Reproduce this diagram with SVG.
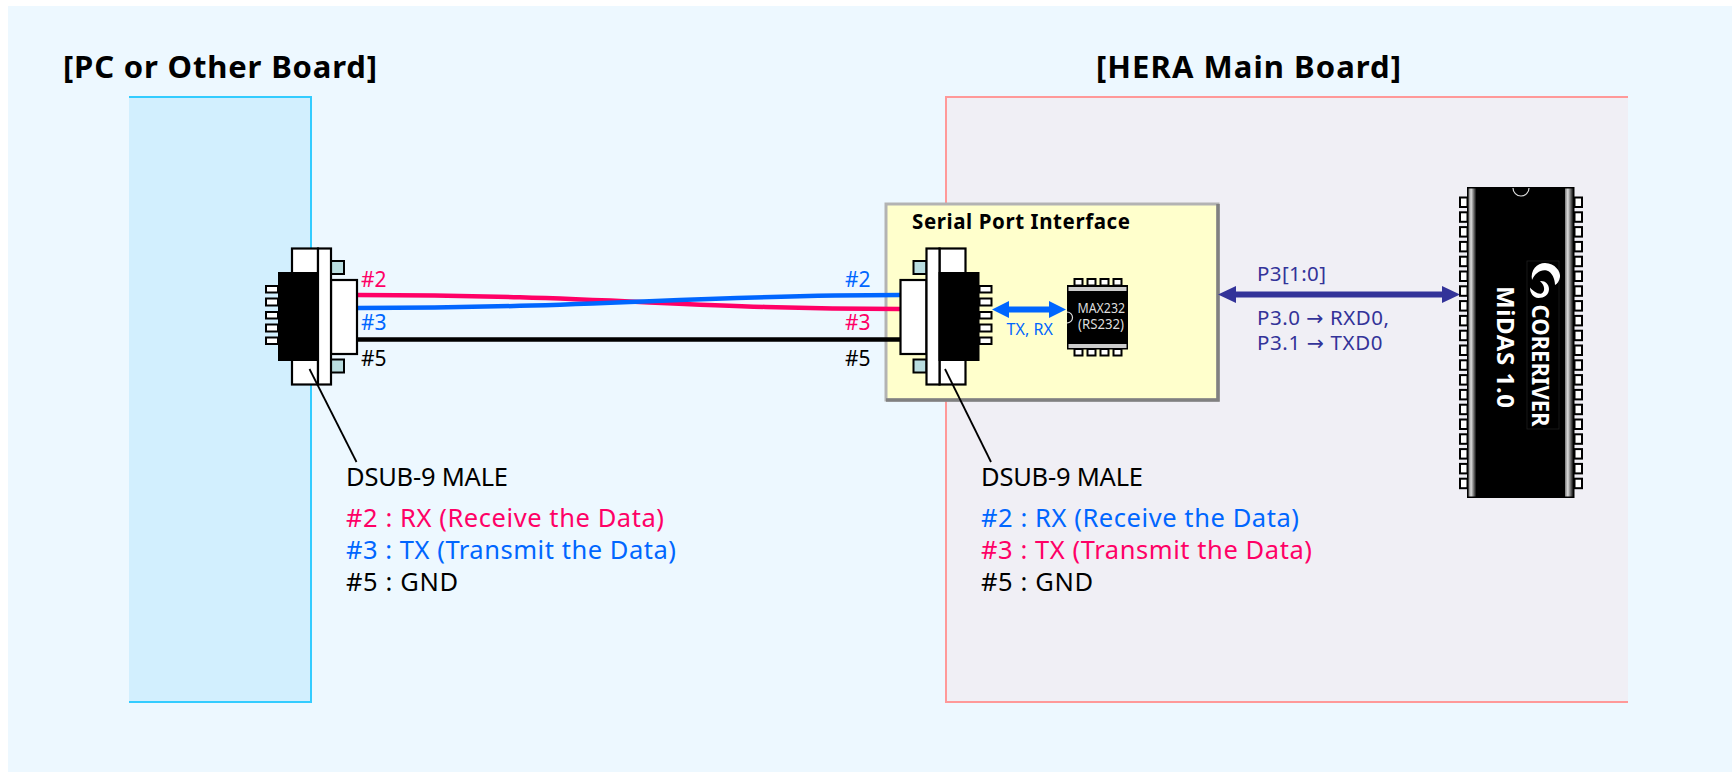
<svg xmlns="http://www.w3.org/2000/svg" width="1736" height="772" viewBox="0 0 1736 772">
<style>
text{font-family:"Noto Sans","Open Sans","DejaVu Sans",sans-serif}
.t{font-size:25.5px}
.b{font-weight:700}
.title{font-size:31px;font-weight:700}
.red{fill:#ff0066}.blu{fill:#0066ff}.blk{fill:#000}.nav{fill:#333399}
.lab{font-size:21px}
.sm{font-size:20.5px}
.w{fill:#fff;stroke:#000;stroke-width:2.2}
.pin{fill:#fff;stroke:#000;stroke-width:2}
.teal{fill:#b9dde0;stroke:#000;stroke-width:2}
.wire{fill:none;stroke-width:4.5}
.lead{stroke:#000;stroke-width:1.8;fill:none}
</style>
<defs>
<linearGradient id="band" x1="0" x2="1" y1="0" y2="0"><stop offset="0" stop-color="#777"/><stop offset=".35" stop-color="#ddd"/><stop offset="1" stop-color="#111"/></linearGradient>
<g id="dsub">
<rect class="w" x="292" y="248.5" width="26" height="136"/>
<rect class="teal" x="331" y="261" width="13" height="13"/>
<rect class="teal" x="331" y="359.5" width="13" height="13"/>
<rect class="w" x="331" y="280" width="26" height="74"/>
<rect class="w" x="318" y="248.5" width="13" height="136"/>
<rect x="278" y="272" width="41" height="89" fill="#000"/>
<rect class="pin" x="266" y="286" width="12" height="6.5"/>
<rect class="pin" x="266" y="298.5" width="12" height="7"/>
<rect class="pin" x="266" y="312" width="12" height="6.5"/>
<rect class="pin" x="266" y="324.5" width="12" height="7"/>
<rect class="pin" x="266" y="337.5" width="12" height="6.5"/>
</g>
<rect id="p8" class="pin" width="8" height="6.5"/>
<rect id="p40" class="pin" width="7.5" height="9.5"/>
</defs>

<rect x="8" y="6" width="1724" height="766" fill="#edf8ff"/>

<g id="pc-board">
<rect x="129" y="97" width="182" height="605" fill="#d2effe"/>
<path d="M129 97H311V702H129" fill="none" stroke="#33ccff" stroke-width="2"/>
<text class="title" x="63" y="78" textLength="314">[PC or Other Board]</text>
</g>

<g id="hera-board">
<rect x="946" y="97" width="682" height="605" fill="#f0eff5"/>
<path d="M1628 97H946V702H1628" fill="none" stroke="#ff9999" stroke-width="2"/>
<text class="title" x="1096" y="78" textLength="305">[HERA Main Board]</text>
</g>

<g id="serial-port-interface">
<rect x="886" y="204" width="332" height="196" fill="#ffffcc" stroke="#b3b3b3" stroke-width="3"/>
<path d="M1218 204V400H886" fill="none" stroke="#808080" stroke-width="3.5"/>
<text class="b" font-size="20.5" x="912" y="229" textLength="218">Serial Port Interface</text>
</g>

<g id="connectors">
<path class="wire" stroke="#ff0066" d="M357 295C600 295 690 309 900 309"/>
<path class="wire" stroke="#0066ff" d="M357 308C600 308 690 295 900 295"/>
<path class="wire" stroke="#000" d="M357 339.5H900"/>
<path d="M999 309.5H1059" stroke="#0066ff" stroke-width="6" fill="none"/>
<path d="M992 309.5L1009 301V318zM1066 309.5L1049 301V318z" fill="#0066ff"/>
<path d="M1228 294.5H1450" stroke="#333399" stroke-width="6" fill="none"/>
<path d="M1218 294.5L1236 286V303zM1460 294.5L1442 286V303z" fill="#333399"/>
</g>

<g id="dsub-left">
<use href="#dsub"/>
<text class="lab red" x="361" y="287">#2</text>
<text class="lab blu" x="361" y="330">#3</text>
<text class="lab blk" x="361" y="366">#5</text>
<text class="t" x="346" y="486" textLength="162">DSUB-9 MALE</text>
<text class="t red" x="346" y="527" textLength="318">#2 : RX (Receive the Data)</text>
<text class="t blu" x="346" y="559" textLength="330">#3 : TX (Transmit the Data)</text>
<text class="t blk" x="346" y="590.5" textLength="112">#5 : GND</text>
</g>

<g id="dsub-right">
<use href="#dsub" transform="translate(1257.5 0) scale(-1 1)"/>
<text class="lab blu" x="845" y="287">#2</text>
<text class="lab red" x="845" y="330">#3</text>
<text class="lab blk" x="845" y="366">#5</text>
<text class="t" x="981" y="486" textLength="162">DSUB-9 MALE</text>
<text class="t blu" x="981" y="527" textLength="318">#2 : RX (Receive the Data)</text>
<text class="t red" x="981" y="559" textLength="331">#3 : TX (Transmit the Data)</text>
<text class="t blk" x="981" y="590.5" textLength="112">#5 : GND</text>
</g>

<g id="leaders">
<path class="lead" d="M309.5 369L356.5 462"/>
<path class="lead" d="M945 369L991 462"/>
</g>

<g id="max232">
<use href="#p8" x="1074.5" y="279"/><use href="#p8" x="1087.5" y="279"/><use href="#p8" x="1100.5" y="279"/><use href="#p8" x="1113.5" y="279"/>
<use href="#p8" x="1074.5" y="349"/><use href="#p8" x="1087.5" y="349"/><use href="#p8" x="1100.5" y="349"/><use href="#p8" x="1113.5" y="349"/>
<rect x="1067" y="285" width="61" height="64.5" fill="#000"/>
<rect x="1068.5" y="287" width="58" height="4" fill="#ccc"/>
<rect x="1068.5" y="344" width="58" height="4" fill="#ccc"/>
<path d="M1067 312A5.5 5.5 0 0 1 1067 323" fill="none" stroke="#ddd" stroke-width="1.2"/>
<text x="1077.5" y="313" font-size="13.5" fill="#ddd" textLength="47.5" lengthAdjust="spacingAndGlyphs">MAX232</text>
<text x="1078" y="329" font-size="13.5" fill="#ddd" textLength="46" lengthAdjust="spacingAndGlyphs">(RS232)</text>
<text class="blu" x="1006.5" y="335" font-size="16" textLength="46.5">TX, RX</text>
</g>

<g id="midas">
<use href="#p40" x="1460" y="197.5"/><use href="#p40" x="1460" y="212.3"/><use href="#p40" x="1460" y="227.1"/><use href="#p40" x="1460" y="241.9"/><use href="#p40" x="1460" y="256.7"/><use href="#p40" x="1460" y="271.5"/><use href="#p40" x="1460" y="286.3"/><use href="#p40" x="1460" y="301.1"/><use href="#p40" x="1460" y="315.9"/><use href="#p40" x="1460" y="330.7"/><use href="#p40" x="1460" y="345.5"/><use href="#p40" x="1460" y="360.3"/><use href="#p40" x="1460" y="375.1"/><use href="#p40" x="1460" y="389.9"/><use href="#p40" x="1460" y="404.7"/><use href="#p40" x="1460" y="419.5"/><use href="#p40" x="1460" y="434.3"/><use href="#p40" x="1460" y="449.1"/><use href="#p40" x="1460" y="463.9"/><use href="#p40" x="1460" y="478.7"/>
<use href="#p40" x="1574.5" y="197.5"/><use href="#p40" x="1574.5" y="212.3"/><use href="#p40" x="1574.5" y="227.1"/><use href="#p40" x="1574.5" y="241.9"/><use href="#p40" x="1574.5" y="256.7"/><use href="#p40" x="1574.5" y="271.5"/><use href="#p40" x="1574.5" y="286.3"/><use href="#p40" x="1574.5" y="301.1"/><use href="#p40" x="1574.5" y="315.9"/><use href="#p40" x="1574.5" y="330.7"/><use href="#p40" x="1574.5" y="345.5"/><use href="#p40" x="1574.5" y="360.3"/><use href="#p40" x="1574.5" y="375.1"/><use href="#p40" x="1574.5" y="389.9"/><use href="#p40" x="1574.5" y="404.7"/><use href="#p40" x="1574.5" y="419.5"/><use href="#p40" x="1574.5" y="434.3"/><use href="#p40" x="1574.5" y="449.1"/><use href="#p40" x="1574.5" y="463.9"/><use href="#p40" x="1574.5" y="478.7"/>
<rect x="1467" y="187" width="107.5" height="311" fill="#000"/>
<rect x="1468.5" y="188.5" width="7.5" height="308" fill="url(#band)"/>
<rect x="1565" y="188.5" width="8" height="308" fill="url(#band)"/>
<path d="M1513 188A8 8 0 0 0 1529 188" fill="none" stroke="#ddd" stroke-width="1.2"/>
<rect x="1527" y="261" width="32" height="168" fill="none" stroke="#222" stroke-width=".7"/>
<path d="M1532 280C1530 270 1537 263 1545 263C1555 263 1561 272 1560 277C1559.5 281 1557 284 1555 285C1555 279 1552 272 1546.7 270.5C1541 269 1535 273 1532 280Z" fill="#fff"/>
<path d="M1530 287.5C1533 291 1538 294.5 1541.5 293.5C1545 292 1545.5 286 1540 281C1545 280.5 1549 284 1549 289C1549 295 1544 298 1538.5 298C1533 297.5 1530 293 1530 287.5Z" fill="#fff"/>
<text class="b" transform="translate(1497 286) rotate(90)" font-size="24" fill="#fff" textLength="122">MiDAS 1.0</text>
<text class="b" transform="translate(1532 304.5) rotate(90)" font-size="24" fill="#fff" textLength="122" lengthAdjust="spacingAndGlyphs">CORERIVER</text>
</g>

<g id="p3-labels">
<text class="sm nav" x="1257" y="280.5" textLength="69">P3[1:0]</text>
<text class="sm nav" x="1257" y="325" textLength="132">P3.0 → RXD0,</text>
<text class="sm nav" x="1257" y="349.5" textLength="125.5">P3.1 → TXD0</text>
</g>
</svg>
